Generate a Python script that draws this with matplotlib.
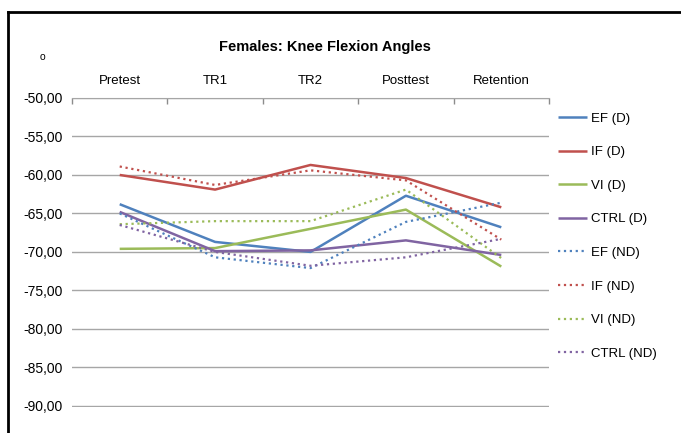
import numpy as np
import matplotlib
matplotlib.use("Agg")
import matplotlib.pyplot as plt
from matplotlib.lines import Line2D
from matplotlib.ticker import FuncFormatter

plt.rcParams['font.family'] = ['Liberation Sans', 'DejaVu Sans']

# data (degrees)
phases = ["Pretest", "TR1", "TR2", "Posttest", "Retention"]
ef_d = [-63.8, -68.7, -70.0, -62.7, -66.8]
if_d = [-60.0, -61.9, -58.7, -60.4, -64.2]
vi_d = [-69.6, -69.5, -67.0, -64.5, -71.9]
ctrl_d = [-64.8, -69.9, -69.8, -68.5, -70.4]
ef_nd = [-65.0, -70.7, -72.1, -66.1, -63.6]
if_nd = [-58.9, -61.3, -59.4, -60.7, -68.4]
vi_nd = [-66.4, -66.0, -66.0, -61.9, -70.8]
ctrl_nd = [-66.5, -70.0, -71.8, -70.7, -68.3]

blue, red, green, purple = "#4F81BD", "#C0504D", "#9BBB59", "#8064A2"

fig = plt.figure(figsize=(6.81, 4.33), dpi=100)
ax = fig.add_axes([72/681, 1 - 407/433, 477/681, 309/433])

x = np.arange(len(phases))
series = [
    ("EF (D)", ef_d, blue, "-"),
    ("IF (D)", if_d, red, "-"),
    ("VI (D)", vi_d, green, "-"),
    ("CTRL (D)", ctrl_d, purple, "-"),
    ("EF (ND)", ef_nd, blue, ":"),
    ("IF (ND)", if_nd, red, ":"),
    ("VI (ND)", vi_nd, green, ":"),
    ("CTRL (ND)", ctrl_nd, purple, ":"),
]
for label, vals, col, ls in series:
    lw = 1.8 if ls == "-" else 1.6
    ax.plot(x, vals, color=col, linestyle=ls, linewidth=lw, label=label,
            solid_capstyle="butt", zorder=3)

ax.set_xlim(-0.5, len(phases) - 0.5)
ax.set_ylim(-90.15, -50)
ax.set_yticks(np.arange(-90, -49, 5))
ax.yaxis.set_major_formatter(FuncFormatter(lambda v, p: f"{v:.2f}".replace(".", ",")))
ax.grid(axis="y", color="#a6a6a6", linewidth=1.0, zorder=0)
for s in ax.spines.values():
    s.set_visible(False)
ax.tick_params(axis="y", length=0, pad=7, labelsize=10)

# category labels on top, boundary ticks on the -50 line
ax.xaxis.tick_top()
ax.set_xticks(x)
ax.set_xticklabels(phases, fontsize=9.5)
ax.tick_params(axis="x", length=0, pad=8)
ax.set_xticks(np.arange(-0.5, len(phases)), minor=True)
ax.tick_params(axis="x", which="minor", length=4, direction="in", color="#8c8c8c", width=1.0)
ax.spines["top"].set_visible(True)
ax.spines["top"].set_color("#a6a6a6")

fig.text(325/681, 1 - 47/433, "Females: Knee Flexion Angles", fontsize=10.5,
         fontweight="bold", ha="center", va="center")
fig.text(42/681, 1 - 57/433, "o", fontsize=7.5, ha="center", va="center")

leg = fig.legend(loc="upper left", bbox_to_anchor=(553/681, 1 - 107/433), frameon=False,
                 fontsize=9.5, handlelength=2.2, handletextpad=0.3, labelspacing=1.62,
                 borderaxespad=0)

# black frame on the left and top
fig.add_artist(Line2D([8/681, 8/681], [0, 1 - 12/433], color="black", linewidth=2,
                      transform=fig.transFigure))
fig.add_artist(Line2D([8/681, 1], [1 - 12/433, 1 - 12/433], color="black", linewidth=2,
                      transform=fig.transFigure))

fig.savefig("out.png", dpi=100)
